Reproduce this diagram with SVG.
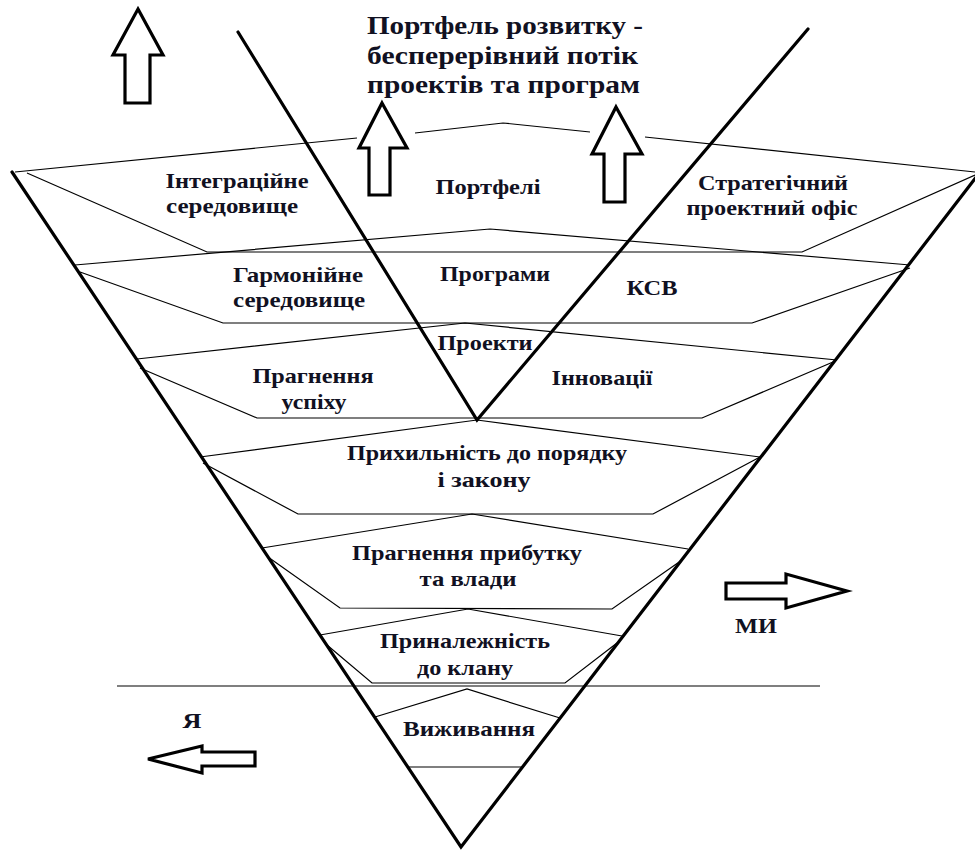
<svg xmlns="http://www.w3.org/2000/svg" width="975" height="850" viewBox="0 0 975 850">
<style>
.t{font-family:"Liberation Serif","Times New Roman",serif;font-weight:bold;fill:#111122;font-size:22px;text-anchor:middle}
.title{font-family:"Liberation Serif","Times New Roman",serif;font-weight:bold;fill:#111122;font-size:25px}
.thin{fill:none;stroke:#000;stroke-width:1.2}
.thick{fill:none;stroke:#000;stroke-width:3.2;stroke-linecap:round;stroke-linejoin:miter}
.arrow{fill:#fff;stroke:#000;stroke-width:3.2;stroke-linejoin:miter}
</style>
<rect width="975" height="850" fill="#fff"/>
<g id="connectors">
<polyline class="thin" points="15,172 357,138"/>
<polyline class="thin" points="415,133 503,123 590,132"/>
<polyline class="thin" points="645,137 975,172"/>
<polyline class="thin" points="27,173 207,252 802,252 975,175"/>
<polyline class="thin" points="75,265 490,229 910,265"/>
<polyline class="thin" points="80,272 223,323 752,323 910,268"/>
<polyline class="thin" points="137,359 465,323 837,360"/>
<polyline class="thin" points="140,368 257,418 702,418 833,362"/>
<polyline class="thin" points="200,457 477,420 760,457"/>
<polyline class="thin" points="203,463 298,514 653,514 760,457"/>
<polyline class="thin" points="262,548 472,514 688,549"/>
<polyline class="thin" points="268,557 340,608 612,609 682,560"/>
<polyline class="thin" points="320,635 468,609 622,636"/>
<polyline class="thin" points="327,645 372,683 565,683 617,643"/>
<line class="thin" x1="117" y1="686" x2="820" y2="686"/>
<polyline class="thin" points="375,717 467,689 560,718"/>
<line class="thin" x1="407" y1="767" x2="523" y2="767"/>
<polyline class="thick" points="12,172 461,847 980,172"/>
<polyline class="thick" points="238,32 477,420 808,29"/>
</g>
<g id="arrow-up-left"><path class="arrow" d="M138,9 L163,55 L150,55 L150,103 L125,103 L125,55 L113,55 Z"/></g>
<g id="arrow-up-mid"><path class="arrow" d="M382,103 L407,148 L390,148 L390,195 L369,195 L369,148 L359,148 Z"/></g>
<g id="arrow-up-right"><path class="arrow" d="M616,107 L642,154 L625,154 L625,202 L604,202 L604,154 L592,154 Z"/></g>
<g id="arrow-right"><path class="arrow" d="M847,591 L786,574 L786,583 L726,583 L726,599 L786,599 L786,608 Z"/></g>
<g id="arrow-left"><path class="arrow" d="M148,759 L202,746 L202,752 L255,752 L255,766 L202,766 L202,773 Z"/></g>
<g id="title">
<text class="title" x="367" y="34" textLength="276" lengthAdjust="spacingAndGlyphs">Портфель розвитку -</text>
<text class="title" x="367" y="64" textLength="271" lengthAdjust="spacingAndGlyphs">бесперерівний потік</text>
<text class="title" x="367" y="93" textLength="273" lengthAdjust="spacingAndGlyphs">проектів та програм</text>
</g>
<g id="integr"><text class="t" x="237" y="188" textLength="143" lengthAdjust="spacingAndGlyphs">Інтеграційне</text><text class="t" x="232" y="213" textLength="132" lengthAdjust="spacingAndGlyphs">середовище</text></g>
<g id="portfeli"><text class="t" x="488" y="194" textLength="105" lengthAdjust="spacingAndGlyphs">Портфелі</text></g>
<g id="strateg"><text class="t" x="773" y="190" textLength="150" lengthAdjust="spacingAndGlyphs">Стратегічний</text><text class="t" x="772" y="215" textLength="171" lengthAdjust="spacingAndGlyphs">проектний офіс</text></g>
<g id="garmon"><text class="t" x="298" y="282" textLength="130" lengthAdjust="spacingAndGlyphs">Гармонійне</text><text class="t" x="299" y="307" textLength="132" lengthAdjust="spacingAndGlyphs">середовище</text></g>
<g id="programy"><text class="t" x="495" y="281" textLength="110" lengthAdjust="spacingAndGlyphs">Програми</text></g>
<g id="ksv"><text class="t" x="652" y="295" textLength="51" lengthAdjust="spacingAndGlyphs">КСВ</text></g>
<g id="proekty"><text class="t" x="485" y="350" textLength="95" lengthAdjust="spacingAndGlyphs">Проекти</text></g>
<g id="uspikh"><text class="t" x="313" y="383" textLength="121" lengthAdjust="spacingAndGlyphs">Прагнення</text><text class="t" x="314" y="409" textLength="65" lengthAdjust="spacingAndGlyphs">успіху</text></g>
<g id="innov"><text class="t" x="602" y="385" textLength="101" lengthAdjust="spacingAndGlyphs">Інновації</text></g>
<g id="poryadok"><text class="t" x="487" y="460" textLength="280" lengthAdjust="spacingAndGlyphs">Прихильність до порядку</text><text class="t" x="484" y="487" textLength="93" lengthAdjust="spacingAndGlyphs">і закону</text></g>
<g id="prybutok"><text class="t" x="467" y="560" textLength="230" lengthAdjust="spacingAndGlyphs">Прагнення прибутку</text><text class="t" x="468" y="586" textLength="97" lengthAdjust="spacingAndGlyphs">та влади</text></g>
<g id="klan"><text class="t" x="465" y="648" textLength="170" lengthAdjust="spacingAndGlyphs">Приналежність</text><text class="t" x="465" y="675" textLength="96" lengthAdjust="spacingAndGlyphs">до клану</text></g>
<g id="vyzhyv"><text class="t" x="469" y="736" textLength="132" lengthAdjust="spacingAndGlyphs">Виживання</text></g>
<g id="my"><text class="t" x="756" y="633" textLength="42" lengthAdjust="spacingAndGlyphs">МИ</text></g>
<g id="ya"><text class="t" x="192" y="728" textLength="19" lengthAdjust="spacingAndGlyphs">Я</text></g>
</svg>
